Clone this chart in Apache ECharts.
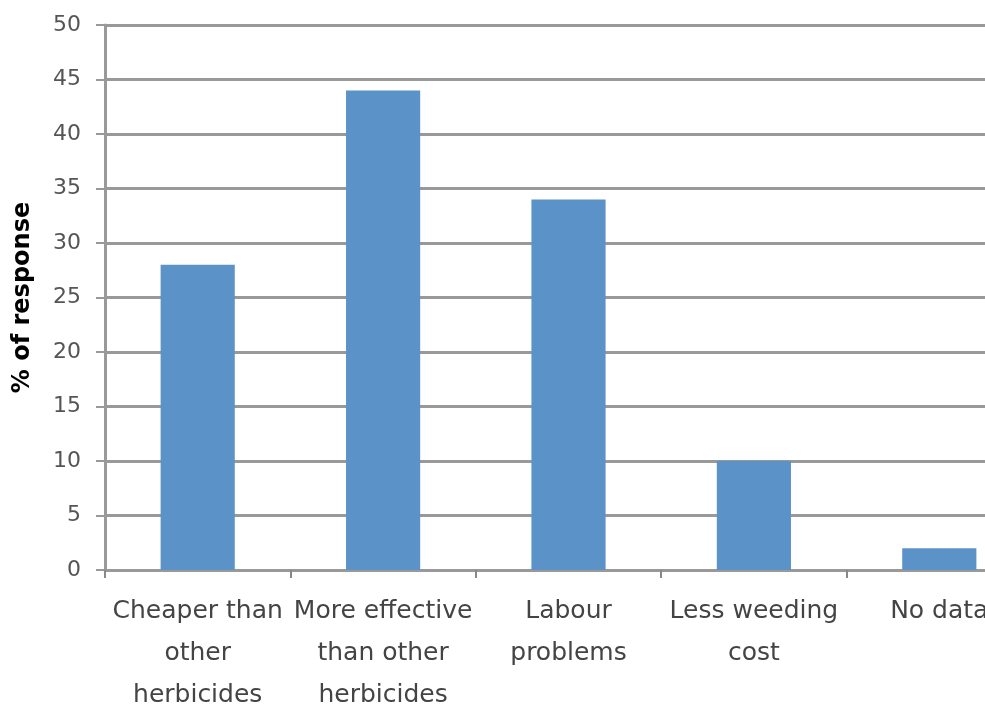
<!DOCTYPE html>
<html>
<head>
<meta charset="utf-8">
<script src="https://cdn.jsdelivr.net/npm/echarts@6/dist/echarts.min.js"></script>
<style>
  html, body { margin: 0; padding: 0; background: #fff; }
  #chart { width: 985px; height: 707px; }
</style>
</head>
<body>
<div id="chart"></div>
<script>
// categories and values
var reasons = [
  'Cheaper than\nother\nherbicides',
  'More effective\nthan other\nherbicides',
  'Labour\nproblems',
  'Less weeding\ncost',
  'No data'
];
var responsePct = [28, 44, 34, 10, 2];
var yMin = 0, yMax = 50, yStep = 5;

var myChart = echarts.init(document.getElementById('chart'));

var option = {
  animation: false,
  backgroundColor: '#ffffff',
  grid: {
    left: 105,
    right: -47,
    top: 25,
    bottom: 137,
    containLabel: false,
    outerBoundsMode: 'none'
  },
  xAxis: {
    type: 'category',
    data: reasons,
    axisLine: { lineStyle: { color: '#999', width: 3 } },
    axisTick: { show: true, length: 8, lineStyle: { color: '#888', width: 2 } },
    axisLabel: {
      color: '#444',
      fontFamily: 'DejaVu Sans',
      fontSize: 25,
      lineHeight: 42,
      margin: 20,
      interval: 0
    }
  },
  yAxis: {
    type: 'value',
    min: yMin,
    max: yMax,
    interval: yStep,
    name: '% of response',
    nameLocation: 'middle',
    nameGap: 70,
    nameTextStyle: {
      color: '#000',
      fontFamily: 'DejaVu Sans',
      fontWeight: 'bold',
      fontSize: 24
    },
    axisLine: { show: true, lineStyle: { color: '#999', width: 3 } },
    axisTick: { show: true, length: 9, lineStyle: { color: '#999', width: 2 } },
    axisLabel: {
      color: '#555',
      fontFamily: 'DejaVu Sans',
      fontSize: 22,
      margin: 24
    },
    splitLine: { show: true, lineStyle: { color: '#999', width: 3 } }
  },
  series: [
    {
      name: '% of response',
      type: 'bar',
      data: responsePct,
      barCategoryGap: '60%',
      itemStyle: { color: '#5b93c9' }
    }
  ]
};

myChart.setOption(option);
</script>
</body>
</html>
